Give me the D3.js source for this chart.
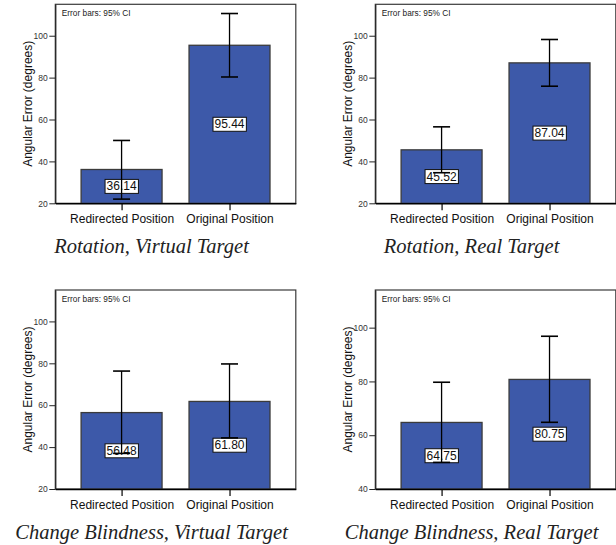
<!DOCTYPE html>
<html>
<head>
<meta charset="utf-8">
<script src="https://cdn.jsdelivr.net/npm/d3@7"></script>
<style>
  html, body { margin: 0; padding: 0; background: #fff; }
  svg { display: block; }
</style>
</head>
<body>
<svg id="chart" width="616" height="545"></svg>
<script>
const categories = ["Redirected Position", "Original Position"];
const titles = ["Rotation, Virtual Target", "Rotation, Real Target", "Change Blindness, Virtual Target", "Change Blindness, Real Target"];
const yMins = [20, 20, 20, 40];
const yMaxs = [115, 115, 115, 114];
const yTicks = [[20, 40, 60, 80, 100], [20, 40, 60, 80, 100], [20, 40, 60, 80, 100], [40, 60, 80, 100]];
const means = [[36.14, 95.44], [45.52, 87.04], [56.48, 61.80], [64.75, 80.75]];
const ciLow = [[22.0, 80.3], [34.6, 75.9], [37.0, 44.4], [49.9, 64.8]];
const ciHigh = [[50.0, 110.6], [56.5, 98.2], [76.3, 79.7], [79.7, 96.8]];
const meanLabels = ["36.14", "95.44", "45.52", "87.04", "56.48", "61.80", "64.75", "80.75"];

const svg = d3.select("#chart");
const W = 240.5, H = 199;
const origins = [[55.3, 4.3], [375.3, 4.3], [55.3, 290], [375.3, 290]];
const sans = "'Liberation Sans', Arial, sans-serif";

titles.forEach((title, i) => {
  const [ox, oy] = origins[i];
  const g = svg.append("g").attr("transform", `translate(${ox},${oy})`);

  const x = d3.scalePoint().domain(categories).range([0, W]).padding(0.614);
  const step = x.step();
  const bw = step * 0.75;
  const y = d3.scaleLinear().domain([yMins[i], yMaxs[i]]).range([H, 0]);

  // frame
  g.append("rect").attr("x", 0).attr("y", 0).attr("width", W).attr("height", H)
    .attr("fill", "#fff").attr("stroke", "#3a3a3a").attr("stroke-width", 1.2);

  // note
  g.append("text").attr("x", 6.5).attr("y", 11.5)
    .attr("font-family", sans).attr("font-size", 8.3).attr("fill", "#222")
    .text("Error bars: 95% CI");

  const data = categories.map((c, j) => ({
    c, m: means[i][j], lo: ciLow[i][j], hi: ciHigh[i][j], lab: meanLabels[i * 2 + j]
  }));

  // bars
  g.selectAll("rect.bar").data(data).enter().append("rect").attr("class", "bar")
    .attr("x", d => x(d.c) - bw / 2).attr("width", bw)
    .attr("y", d => y(d.m)).attr("height", d => y(yMins[i]) - y(d.m))
    .attr("fill", "#3d59a9").attr("stroke", "#3b3b3b").attr("stroke-width", 1.3);

  // labels
  data.forEach(d => {
    const cy = y((yMins[i] + d.m) / 2);
    const t = g.append("text").attr("x", x(d.c)).attr("y", cy)
      .attr("text-anchor", "middle").attr("dominant-baseline", "central")
      .attr("font-family", sans).attr("font-size", 12).attr("fill", "#111")
      .text(d.lab);
    const bb = t.node().getBBox();
    g.insert("rect", () => t.node())
      .attr("x", bb.x - 1.5).attr("y", cy - 7).attr("width", bb.width + 3).attr("height", 14)
      .attr("fill", "#fff").attr("stroke", "#111").attr("stroke-width", 1);
  });

  // error bars
  const cap = 8.5;
  data.forEach(d => {
    const cx = x(d.c);
    const eg = g.append("g").attr("stroke", "#000").attr("stroke-width", 1.3);
    eg.append("line").attr("x1", cx).attr("x2", cx).attr("y1", y(d.lo)).attr("y2", y(d.hi));
    eg.append("line").attr("x1", cx - cap).attr("x2", cx + cap).attr("y1", y(d.lo)).attr("y2", y(d.lo)).attr("stroke-width", 1.6);
    eg.append("line").attr("x1", cx - cap).attr("x2", cx + cap).attr("y1", y(d.hi)).attr("y2", y(d.hi)).attr("stroke-width", 1.6);
  });

  // y axis
  const ya = g.append("g").call(d3.axisLeft(y).tickValues(yTicks[i]).tickSize(6).tickPadding(1.5).tickSizeOuter(0));
  ya.select(".domain").attr("stroke", "#222").attr("stroke-width", 1.2);
  ya.selectAll(".tick line").attr("stroke", "#222").attr("stroke-width", 1);
  ya.selectAll(".tick text").attr("font-family", sans).attr("font-size", 8.5).attr("fill", "#333");

  // x axis
  const xa = g.append("g").attr("transform", `translate(0,${H})`)
    .call(d3.axisBottom(x).tickSize(7).tickPadding(4.5).tickSizeOuter(0));
  xa.select(".domain").attr("stroke", "#000").attr("stroke-width", 1.6);
  xa.selectAll(".tick line").attr("stroke", "#000").attr("stroke-width", 1.2);
  xa.selectAll(".tick text").attr("font-family", sans).attr("font-size", 12).attr("fill", "#111");

  // y label
  g.append("text")
    .attr("transform", `translate(${-23.5},${H / 2}) rotate(-90)`)
    .attr("text-anchor", "middle")
    .attr("font-family", sans).attr("font-size", 12).attr("fill", "#111")
    .text("Angular Error (degrees)");

  // title
  g.append("text").attr("x", W / 2 - 24).attr("y", H + 49.5)
    .attr("text-anchor", "middle")
    .attr("font-family", "'Liberation Serif', 'Times New Roman', serif")
    .attr("font-style", "italic").attr("font-size", 20.5).attr("fill", "#222")
    .text(title);
});
</script>
</body>
</html>
